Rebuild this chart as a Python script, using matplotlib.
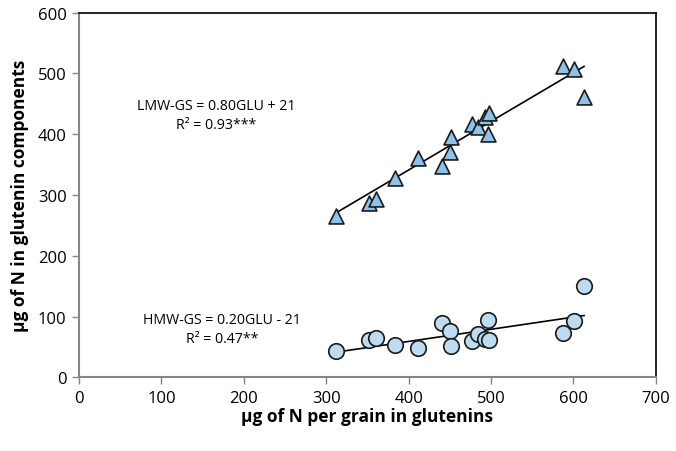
import numpy as np
import matplotlib.pyplot as plt

plt.rcParams['font.family'] = ['Open Sans', 'DejaVu Sans']

# N per grain in glutenins (ug)
glu = [312, 352, 360, 383, 411, 440, 450, 451, 477, 484, 493, 498, 497, 588, 601, 613]
# LMW-GS (triangles)
lmw = [266, 287, 294, 328, 360, 347, 371, 396, 416, 411, 428, 435, 400, 512, 507, 461]
# HMW-GS (circles)
hmw = [44, 62, 64, 53, 49, 90, 76, 52, 59, 71, 63, 61, 94, 73, 93, 150]

# fitted lines as given in the chart
lmw_fit = (0.80, 21)
hmw_fit = (0.20, -21)

x_ticks = [0, 100, 200, 300, 400, 500, 600, 700]
y_ticks = [0, 100, 200, 300, 400, 500, 600]

fig = plt.figure(figsize=(6.76, 4.52), dpi=100)
ax = fig.add_axes([0.117, 0.163, 0.853, 0.807])

xl = np.array([min(glu), max(glu)])
ax.plot(xl, lmw_fit[0] * xl + lmw_fit[1], color='black', lw=1.2, zorder=2)
ax.plot(xl, hmw_fit[0] * xl + hmw_fit[1], color='black', lw=1.2, zorder=2)

ax.scatter(glu, lmw, marker='^', s=115, facecolor='#8DC3EA', edgecolor='#1a1a1a',
           linewidth=1.2, zorder=3)
ax.scatter(glu, hmw, marker='o', s=125, facecolor='#BDDCF2', edgecolor='#1a1a1a',
           linewidth=1.2, zorder=3)

ax.text(166, 432, 'LMW-GS = 0.80GLU + 21\nR² = 0.93***', ha='center', va='center',
        fontsize=10.2, linespacing=1.35)
ax.text(174, 79, 'HMW-GS = 0.20GLU - 21\nR² = 0.47**', ha='center', va='center',
        fontsize=10.2, linespacing=1.35)

ax.set_xlim(0, 700)
ax.set_ylim(0, 600)
ax.set_xticks(x_ticks)
ax.set_yticks(y_ticks)
ax.tick_params(direction='out', length=5, width=1, color='#868686', labelsize=12, pad=4)

for s in ['left', 'bottom']:
    ax.spines[s].set_color('#868686')
    ax.spines[s].set_linewidth(1.5)
for s in ['top', 'right']:
    ax.spines[s].set_color('black')
    ax.spines[s].set_linewidth(1.2)

ax.set_xlabel('µg of N per grain in glutenins', fontsize=12.5, fontweight='bold', labelpad=1)
ax.set_ylabel('µg of N in glutenin components', fontsize=12.5, fontweight='bold', labelpad=6)

fig.savefig('out.png', dpi=100)
